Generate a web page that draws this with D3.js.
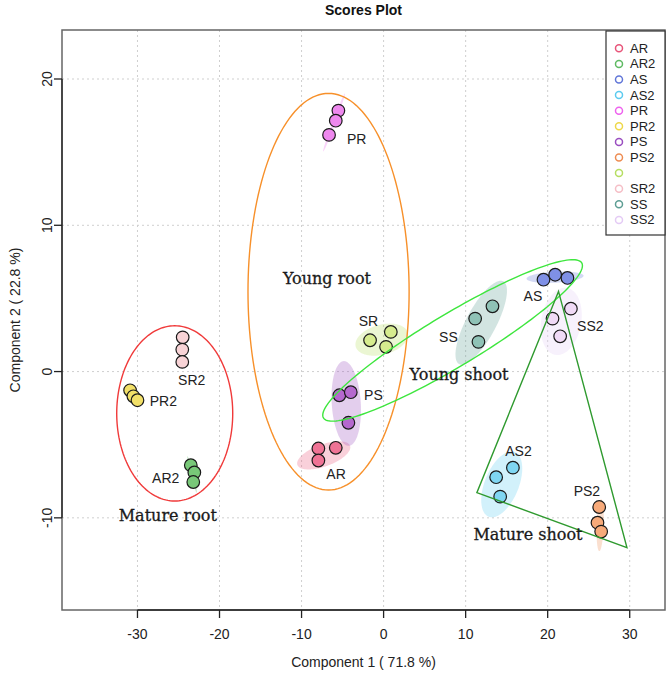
<!DOCTYPE html>
<html><head><meta charset="utf-8">
<script src="https://cdn.jsdelivr.net/npm/d3@7"></script>
<style>body{margin:0;background:#fff}svg{display:block}</style>
</head><body>
<script>
// ---------- data ----------
const groups = ["AR","AR2","AS","AS2","PR","PR2","PS","PS2","SR","SR2","SS","SS2"];
const legendLabels = ["AR","AR2","AS","AS2","PR","PR2","PS","PS2","","SR2","SS","SS2"];
const legendColors = ["#E8557A","#5FBA63","#6176D8","#5CCBEF","#EE62EE","#EED84A","#9A4EC0","#EE8C52","#B6DE62","#F5BEC6","#5E9E94","#E4CBF5"];
const pointColors  = ["#EF7395","#78C878","#7F90E6","#7FD6F2","#EE88EE","#F2E068","#B568CE","#F7AA7A","#D6EC8E","#F8D3D6","#8FC2B6","#F0DAF6"];
const ptX = {
  AR:[-7.95,-5.83,-7.95], AR2:[-23.5,-23.07,-23.2], AS:[19.49,20.91,22.41], AS2:[15.76,13.72,14.21],
  PR:[-5.51,-5.83,-6.65], PR2:[-30.9,-30.5,-30.0], PS:[-5.39,-4.0,-4.29], PS2:[26.28,26.07,26.52],
  SR:[-1.65,0.88,0.30], SR2:[-24.49,-24.54,-24.54], SS:[13.27,11.16,11.56], SS2:[22.83,20.59,21.52]
};
const ptY = {
  AR:[-5.26,-5.21,-6.08], AR2:[-6.4,-6.9,-7.55], AS:[6.28,6.62,6.40], AS2:[-6.57,-7.22,-8.55],
  PR:[17.84,17.15,16.18], PR2:[-1.28,-1.69,-1.96], PS:[-1.62,-1.41,-3.50], PS2:[-9.26,-10.33,-10.94],
  SR:[2.14,2.71,1.69], SR2:[2.34,1.50,0.66], SS:[4.46,3.62,2.03], SS2:[4.30,3.62,2.41]
};
// group label anchor positions (data units)
const labelGroups = ["PR","SR","PS","AR","SS","AS","SS2","AS2","PS2","SR2","PR2","AR2"];
const labelX = [-3.27,-1.85,-1.24,-5.79,7.9,18.2,25.2,16.44,24.78,-23.39,-26.85,-26.56];
const labelY = [15.88,3.43,-1.57,-7.03,2.37,5.14,3.14,-5.44,-8.17,-0.55,-2.03,-7.30];
// group confidence ellipses: centre + two conjugate semi-axis vectors (data units)
const ellGroups = ["AR","PS","SR","SS","AS","SS2","AS2","PS2","PR","AR2"];
const ellCX = [-7.3,-4.55,-0.22,11.9,20.9,21.65,14.4,26.4,-6.04,-23.35];
const ellCY = [-5.73,-2.18,2.18,3.34,6.45,3.43,-7.71,-10.5,17.03,-7.03];
const ellA  = [[3.21,0.654],[-0.317,2.894],[3.18,0.477],[2.69,2.83],[3.47,0.102],[0.72,2.287],[1.60,2.21],[0.11,1.775],[1.32,1.98],[-0.573,1.249]];
const ellB  = [[0.459,-0.706],[1.765,0.060],[0.473,-0.989],[1.615,-0.481],[0.035,-0.375],[2.40,-0.237],[1.92,-0.435],[0.427,-0.008],[0.171,-0.036],[0.177,0.025]];
// annotation shapes
const annoEllNames = ["Mature root","Young root","Young shoot"];
const annoEllCX = [-25.46,-6.71,8.41];
const annoEllCY = [-2.86,5.46,2.13];
const annoEllA = [[7.07,0],[9.82,0],[15.74,5.30]];
const annoEllB = [[0,5.99],[0,13.56],[1.651,-1.539]];
const annoEllColor = ["#F03A3A","#F7902A","#3EE63E"];
const triX = [21.32,11.37,29.66];
const triY = [5.48,-8.28,-12.03];
const annoText = ["Young root","Young shoot","Mature root","Mature shoot"];
const annoTX = [-6.9,9.2,-26.3,17.6];
const annoTY = [6.0,-0.6,-10.2,-11.5];
const xTicks = [-30,-20,-10,0,10,20,30];
const yTicks = [-10,0,10,20];

// ---------- drawing ----------
const W = 668, H = 673;
const L = 62, R = 665, T = 30, B = 610;
const x = d3.scaleLinear().domain([-39.2, 34.3]).range([L, R]);
const y = d3.scaleLinear().domain([-16.3, 23.35]).range([B, T]);
const svg = d3.select("body").append("svg").attr("width", W).attr("height", H)
  .style("font-family", "'Liberation Sans', Arial, sans-serif");

svg.append("defs").append("clipPath").attr("id","clip")
  .append("rect").attr("x",L).attr("y",T).attr("width",R-L).attr("height",B-T);

// grid
const grid = svg.append("g").attr("stroke","#cfcfcf").attr("stroke-dasharray","2,3").attr("stroke-width",1);
grid.selectAll(".gx").data(xTicks).join("line")
  .attr("x1",d=>x(d)).attr("x2",d=>x(d)).attr("y1",T).attr("y2",B);
grid.selectAll(".gy").data(yTicks).join("line")
  .attr("y1",d=>y(d)).attr("y2",d=>y(d)).attr("x1",L).attr("x2",R);

const plot = svg.append("g").attr("clip-path","url(#clip)");
const line = d3.line().x(d=>x(d[0])).y(d=>y(d[1])).curve(d3.curveLinearClosed);
function ellPts(cx, cy, A, Bv) {
  return d3.range(0, 160).map(i => {
    const t = i / 160 * 2 * Math.PI;
    return [cx + A[0]*Math.cos(t) + Bv[0]*Math.sin(t), cy + A[1]*Math.cos(t) + Bv[1]*Math.sin(t)];
  });
}
const colorOf = g => legendColors[groups.indexOf(g)];

// group ellipses
plot.selectAll(".gell").data(ellGroups).join("path")
  .attr("d",(g,i)=>line(ellPts(ellCX[i], ellCY[i], ellA[i], ellB[i])))
  .attr("fill", g=>colorOf(g)).attr("fill-opacity",0.28).attr("stroke","none");

// points
groups.forEach((g,gi)=>{
  plot.selectAll(".p"+g).data(ptX[g]).join("circle")
    .attr("cx",d=>x(d)).attr("cy",(d,i)=>y(ptY[g][i])).attr("r",6.3)
    .attr("fill",pointColors[gi]).attr("stroke","#1a1a1a").attr("stroke-width",1.2);
});

// labels
plot.selectAll(".lab").data(labelGroups).join("text")
  .attr("x",(d,i)=>x(labelX[i])).attr("y",(d,i)=>y(labelY[i]))
  .attr("text-anchor","middle").attr("dominant-baseline","central")
  .attr("font-size",14).attr("fill","#222").text(d=>d);

// annotation ellipses
plot.selectAll(".aell").data(annoEllNames).join("path")
  .attr("d",(d,i)=>line(ellPts(annoEllCX[i], annoEllCY[i], annoEllA[i], annoEllB[i])))
  .attr("fill","none").attr("stroke",(d,i)=>annoEllColor[i]).attr("stroke-width",1.4);
// triangle
plot.append("path").attr("d", line(triX.map((v,i)=>[v,triY[i]])))
  .attr("fill","none").attr("stroke","#2F9A2F").attr("stroke-width",1.4);
// annotation text
plot.selectAll(".atxt").data(annoText).join("text")
  .attr("x",(d,i)=>x(annoTX[i])).attr("y",(d,i)=>y(annoTY[i]))
  .attr("text-anchor","middle").attr("font-family","'DejaVu Serif', serif")
  .attr("font-size",16).attr("fill","#1a1a1a").attr("stroke","#1a1a1a").attr("stroke-width",0.3)
  .text(d=>d);

// box
svg.append("rect").attr("x",L).attr("y",T).attr("width",R-L).attr("height",B-T)
  .attr("fill","none").attr("stroke","#666").attr("stroke-width",1.5);

// axes
const ax = svg.append("g").attr("stroke","#222").attr("stroke-width",1.3);
ax.append("line").attr("x1",x(xTicks[0])).attr("x2",x(xTicks[xTicks.length-1])).attr("y1",B).attr("y2",B);
ax.selectAll(".tx").data(xTicks).join("line").attr("x1",d=>x(d)).attr("x2",d=>x(d)).attr("y1",B).attr("y2",B+8);
ax.append("line").attr("y1",y(yTicks[0])).attr("y2",y(yTicks[yTicks.length-1])).attr("x1",L).attr("x2",L);
ax.selectAll(".ty").data(yTicks).join("line").attr("y1",d=>y(d)).attr("y2",d=>y(d)).attr("x1",L).attr("x2",L-8);

svg.selectAll(".xl").data(xTicks).join("text")
  .attr("x",d=>x(d)).attr("y",634).attr("text-anchor","middle").attr("dominant-baseline","central")
  .attr("font-size",14).attr("fill","#222").text(d=>d);
svg.selectAll(".yl").data(yTicks).join("text")
  .attr("transform",d=>`translate(47,${y(d)}) rotate(-90)`).attr("text-anchor","middle").attr("dominant-baseline","central")
  .attr("font-size",14).attr("fill","#222").text(d=>d);

svg.append("text").attr("x",(L+R)/2).attr("y",662).attr("text-anchor","middle").attr("dominant-baseline","central")
  .attr("font-size",14).attr("fill","#222").text("Component 1 ( 71.8 %)");
svg.append("text").attr("transform",`translate(15,${(T+B)/2}) rotate(-90)`).attr("text-anchor","middle")
  .attr("dominant-baseline","central").attr("font-size",14).attr("fill","#222").text("Component 2 ( 22.8 %)");
svg.append("text").attr("x",(L+R)/2).attr("y",10).attr("text-anchor","middle").attr("dominant-baseline","central")
  .attr("font-size",14).attr("font-weight","bold").attr("fill","#111").text("Scores Plot");

// legend
const lg = svg.append("g");
lg.append("rect").attr("x",606).attr("y",31).attr("width",59).attr("height",204)
  .attr("fill","#fff").attr("stroke","#333").attr("stroke-width",1.2);
lg.selectAll("circle").data(legendLabels).join("circle")
  .attr("cx",619).attr("cy",(d,i)=>48.3+i*15.6).attr("r",3.5)
  .attr("fill","none").attr("stroke",(d,i)=>legendColors[i]).attr("stroke-width",1.5);
lg.selectAll("text").data(legendLabels).join("text")
  .attr("x",630).attr("y",(d,i)=>48.3+i*15.6).attr("dominant-baseline","central")
  .attr("font-size",13).attr("fill","#222").text(d=>d);
</script>
</body></html>
